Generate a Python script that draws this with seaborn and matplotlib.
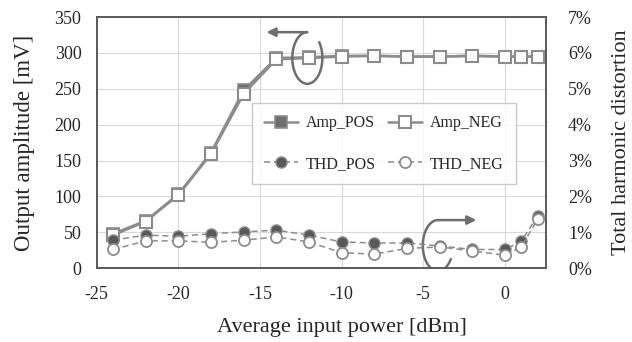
import matplotlib
matplotlib.use("Agg")
from matplotlib import pyplot as plt
import seaborn as sns
import numpy as np
import pandas as pd

# input power [dBm]
power = [-24, -22, -20, -18, -16, -14, -12, -10, -8, -6, -4, -2, 0, 1, 2]

# output amplitude [mV]
amp_pos = [48, 66, 103, 161, 248, 293, 294, 296, 296, 295, 295, 296, 295, 295, 295]
amp_neg = [46, 65, 102, 159, 243, 291, 293, 295, 296, 295, 295, 296, 295, 295, 295]

# total harmonic distortion [%]
thd_pos = [0.78, 0.92, 0.89, 0.96, 1.01, 1.06, 0.92, 0.73, 0.70, 0.70, 0.62, 0.52, 0.52, 0.75, 1.45]
thd_neg = [0.52, 0.76, 0.76, 0.72, 0.78, 0.87, 0.73, 0.43, 0.39, 0.55, 0.59, 0.48, 0.36, 0.59, 1.36]

x_ticks = [-25, -20, -15, -10, -5, 0]
left_ticks = [0, 50, 100, 150, 200, 250, 300, 350]
right_ticks = [0, 1, 2, 3, 4, 5, 6, 7]

df = pd.DataFrame({"power": power, "amp_pos": amp_pos, "amp_neg": amp_neg,
                   "thd_pos": thd_pos, "thd_neg": thd_neg})

sns.set_theme(style="whitegrid", rc={"grid.color": "#d9d9d9", "grid.linewidth": 0.8,
                                     "axes.edgecolor": "#595959"})
plt.rcParams["font.family"] = ["Liberation Serif", "DejaVu Serif"]
plt.rcParams["axes.unicode_minus"] = False

fig = plt.figure(figsize=(6.32, 3.42), dpi=100)
ax = fig.add_axes([0.153, 0.216, 0.7105, 0.734])
ax2 = ax.twinx()

line_c = "#8c8c8c"
sns.lineplot(data=df, x="power", y="amp_pos", ax=ax, color=line_c, linewidth=1.8,
             marker="s", markersize=9, markerfacecolor="#6e6e6e", markeredgecolor="#8c8c8c",
             markeredgewidth=1.2, label="Amp_POS", legend=False)
sns.lineplot(data=df, x="power", y="amp_neg", ax=ax, color=line_c, linewidth=1.8,
             marker="s", markersize=9, markerfacecolor="white", markeredgecolor="#8c8c8c",
             markeredgewidth=1.5, label="Amp_NEG", legend=False)
sns.lineplot(data=df, x="power", y="thd_pos", ax=ax2, color=line_c, linewidth=1.1,
             linestyle=(0, (4, 2.5)), marker="o", markersize=8, markerfacecolor="#595959",
             markeredgecolor="#8c8c8c", markeredgewidth=1.0, label="THD_POS", legend=False)
sns.lineplot(data=df, x="power", y="thd_neg", ax=ax2, color=line_c, linewidth=1.1,
             linestyle=(0, (4, 2.5)), marker="o", markersize=8, markerfacecolor="white",
             markeredgecolor="#8c8c8c", markeredgewidth=1.3, label="THD_NEG", legend=False)

ax.set_xlim(-25, 2.5)
ax.set_ylim(0, 350)
ax2.set_ylim(0, 7)
ax.set_xticks(x_ticks)
ax.set_yticks(left_ticks)
ax2.set_yticks(right_ticks)
ax2.set_yticklabels([f"{t}%" for t in right_ticks])
ax2.grid(False)

for a in (ax, ax2):
    a.tick_params(length=0, labelsize=13, colors="#262626")
    for s in a.spines.values():
        s.set_color("#595959")
        s.set_linewidth(1.2)
ax.tick_params(axis="y", pad=11)
ax.tick_params(axis="x", pad=13)
ax2.tick_params(axis="y", pad=16)

ax.set_xlabel("Average input power [dBm]", fontsize=16, color="#262626")
ax.xaxis.set_label_coords(0.546, -0.2)
ax.set_ylabel("Output amplitude [mV]", fontsize=16.5, labelpad=14, color="#262626")
ax2.set_ylabel("Total harmonic distortion", fontsize=16, labelpad=14, color="#262626")

# legend (column-wise fill)
h1, l1 = ax.get_legend_handles_labels()
h2, l2 = ax2.get_legend_handles_labels()
handles = [h1[0], h2[0], h1[1], h2[1]]
labels = [l1[0], l2[0], l1[1], l2[1]]
leg = ax2.legend(handles, labels, ncol=2, loc="upper left",
                 bbox_to_anchor=(0.346, 0.657), frameon=True, fancybox=False,
                 fontsize=11.5, handlelength=2.1, columnspacing=0.8,
                 labelspacing=1.55, borderpad=0.75, handletextpad=0.5,
                 borderaxespad=0)
leg.get_frame().set_edgecolor("#bfbfbf")
leg.get_frame().set_linewidth(1.0)

# axis indicator arrows (C-shaped arcs with an arrow)
arc_c = "#6e6e6e"


def axis_marker(cx, cy, rx, ry, t0, t1, x_end):
    t = np.deg2rad(np.linspace(t0, t1, 120))
    ax.plot(cx + rx * np.cos(t), cy + ry * np.sin(t), color=arc_c, lw=1.8,
            solid_capstyle="butt", zorder=5)
    ax.annotate("", xy=(x_end, cy + ry), xytext=(cx, cy + ry),
                arrowprops=dict(arrowstyle="-|>", color=arc_c, lw=1.8,
                                mutation_scale=13, shrinkA=0, shrinkB=0), zorder=5)


axis_marker(-12.1, 293, 0.92, 36, 90, 400, -14.6)
axis_marker(-4.1, 31.5, 0.93, 35.5, 90, 330, -1.75)

fig.savefig("out.png", dpi=100)
